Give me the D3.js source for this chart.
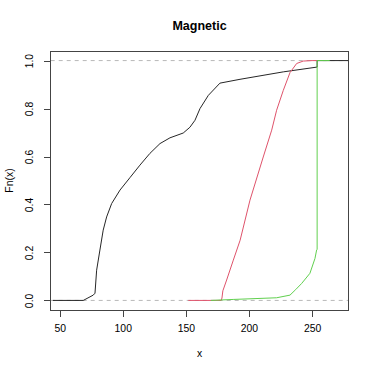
<!DOCTYPE html>
<html>
<head>
<meta charset="UTF-8">
<title>Magnetic</title>
<script src="https://d3js.org/d3.v7.min.js"></script>
<style>
  body { margin: 0; background: #fff; }
  svg text { font-family: "Liberation Sans", Arial, sans-serif; fill: #000; }
</style>
</head>
<body>
<svg id="viz" width="374" height="374"></svg>
<script>
// ecdf knots: x value and Fn(x)
var blackX = [44.6, 68.7, 76.6, 78, 79.3, 81.9, 84.5, 87.2, 91.2, 97.8, 105.7, 113.6, 121.5, 129.5, 137.4, 147.9, 153.2, 157.2, 161.2, 167.8, 177, 192.9, 227.2, 254, 254, 278.7];
var blackF = [0, 0, 0.022, 0.03, 0.126, 0.21, 0.293, 0.348, 0.404, 0.46, 0.512, 0.564, 0.613, 0.654, 0.678, 0.698, 0.722, 0.751, 0.8, 0.855, 0.906, 0.922, 0.953, 0.973, 1, 1];

var redX = [151.9, 178, 178.6, 179.3, 182.3, 187.6, 193, 200.8, 211.3, 218, 221.9, 227.2, 232.5, 237.8, 243, 250, 254];
var redF = [0, 0, 0.01, 0.04, 0.085, 0.168, 0.251, 0.418, 0.598, 0.71, 0.793, 0.876, 0.95, 0.988, 0.998, 1, 1];

var greenX = [169.8, 187.5, 221.9, 232.5, 237, 241.8, 248.3, 252.3, 253.6, 254, 254, 264];
var greenF = [0, 0.004, 0.011, 0.022, 0.045, 0.071, 0.113, 0.175, 0.21, 0.213, 1, 1];

var xTicks = [50, 100, 150, 200, 250];
var yTicks = [0, 0.2, 0.4, 0.6, 0.8, 1.0];

(function() {
var svg = d3.select("#viz"),
    pl = 50.7, pr = 348.3, pt = 51, pb = 310;

var x = d3.scaleLinear().domain([42.9, 278.7]).range([pl, pr]);
var y = d3.scaleLinear().domain([-0.04, 1.04]).range([pb, pt]);

// dashed reference lines at 0 and 1
svg.selectAll(".ref")
  .data([0, 1])
  .enter().append("line")
    .attr("x1", pl).attr("x2", pr)
    .attr("y1", function(d) { return y(d); })
    .attr("y2", function(d) { return y(d); })
    .attr("stroke", "#b8b8b8")
    .attr("stroke-dasharray", "4,4");

// curves
var line = d3.line()
  .x(function(d) { return x(d[0]); })
  .y(function(d) { return y(d[1]); });

var series = [
  {xs: blackX, fs: blackF, col: "#262626"},
  {xs: redX, fs: redF, col: "#DF536B"},
  {xs: greenX, fs: greenF, col: "#61D04F"}
];

series.forEach(function(s) {
  var pts = s.xs.map(function(v, i) { return [v, s.fs[i]]; });
  svg.append("path")
    .attr("d", line(pts))
    .attr("fill", "none")
    .attr("stroke", s.col)
    .attr("stroke-width", 1);
});

// box
svg.append("rect")
  .attr("x", pl).attr("y", pt)
  .attr("width", pr - pl).attr("height", pb - pt)
  .attr("fill", "none")
  .attr("stroke", "#444")
  .attr("shape-rendering", "crispEdges");

// x axis
var gx = svg.append("g")
  .attr("transform", "translate(0," + pb + ")")
  .call(d3.axisBottom(x).tickValues(xTicks).tickSize(7).tickPadding(8).tickFormat(d3.format("d")));
gx.select(".domain").attr("d", "M" + x(50) + ",0H" + x(250)).attr("stroke", "#444").attr("shape-rendering", "crispEdges");
gx.selectAll(".tick line").attr("stroke", "#444").attr("shape-rendering", "crispEdges");
gx.selectAll("text").attr("font-size", "10.4px").attr("font-family", "Liberation Sans, Arial, sans-serif");

// y axis
var gy = svg.append("g")
  .attr("transform", "translate(" + pl + ",0)")
  .call(d3.axisLeft(y).tickValues(yTicks).tickSize(7).tickFormat(d3.format(".1f")));
gy.select(".domain").attr("d", "M0," + y(0) + "V" + y(1)).attr("stroke", "#444").attr("shape-rendering", "crispEdges");
gy.selectAll(".tick line").attr("stroke", "#444").attr("shape-rendering", "crispEdges");
gy.selectAll("text")
  .attr("font-size", "10.4px")
  .attr("font-family", "Liberation Sans, Arial, sans-serif")
  .attr("transform", "rotate(-90)")
  .attr("x", 0).attr("y", -17.5).attr("dy", 0)
  .attr("text-anchor", "middle");

// labels
svg.append("text")
  .attr("x", 199.5).attr("y", 29.5)
  .attr("text-anchor", "middle")
  .attr("font-size", "12.5px")
  .attr("font-weight", "bold")
  .text("Magnetic");

svg.append("text")
  .attr("x", 199.5).attr("y", 357)
  .attr("text-anchor", "middle")
  .attr("font-size", "10.4px")
  .text("x");

svg.append("text")
  .attr("transform", "translate(13," + ((pt + pb) / 2) + ") rotate(-90)")
  .attr("text-anchor", "middle")
  .attr("font-size", "10.4px")
  .text("Fn(x)");
})();
</script>
</body>
</html>
